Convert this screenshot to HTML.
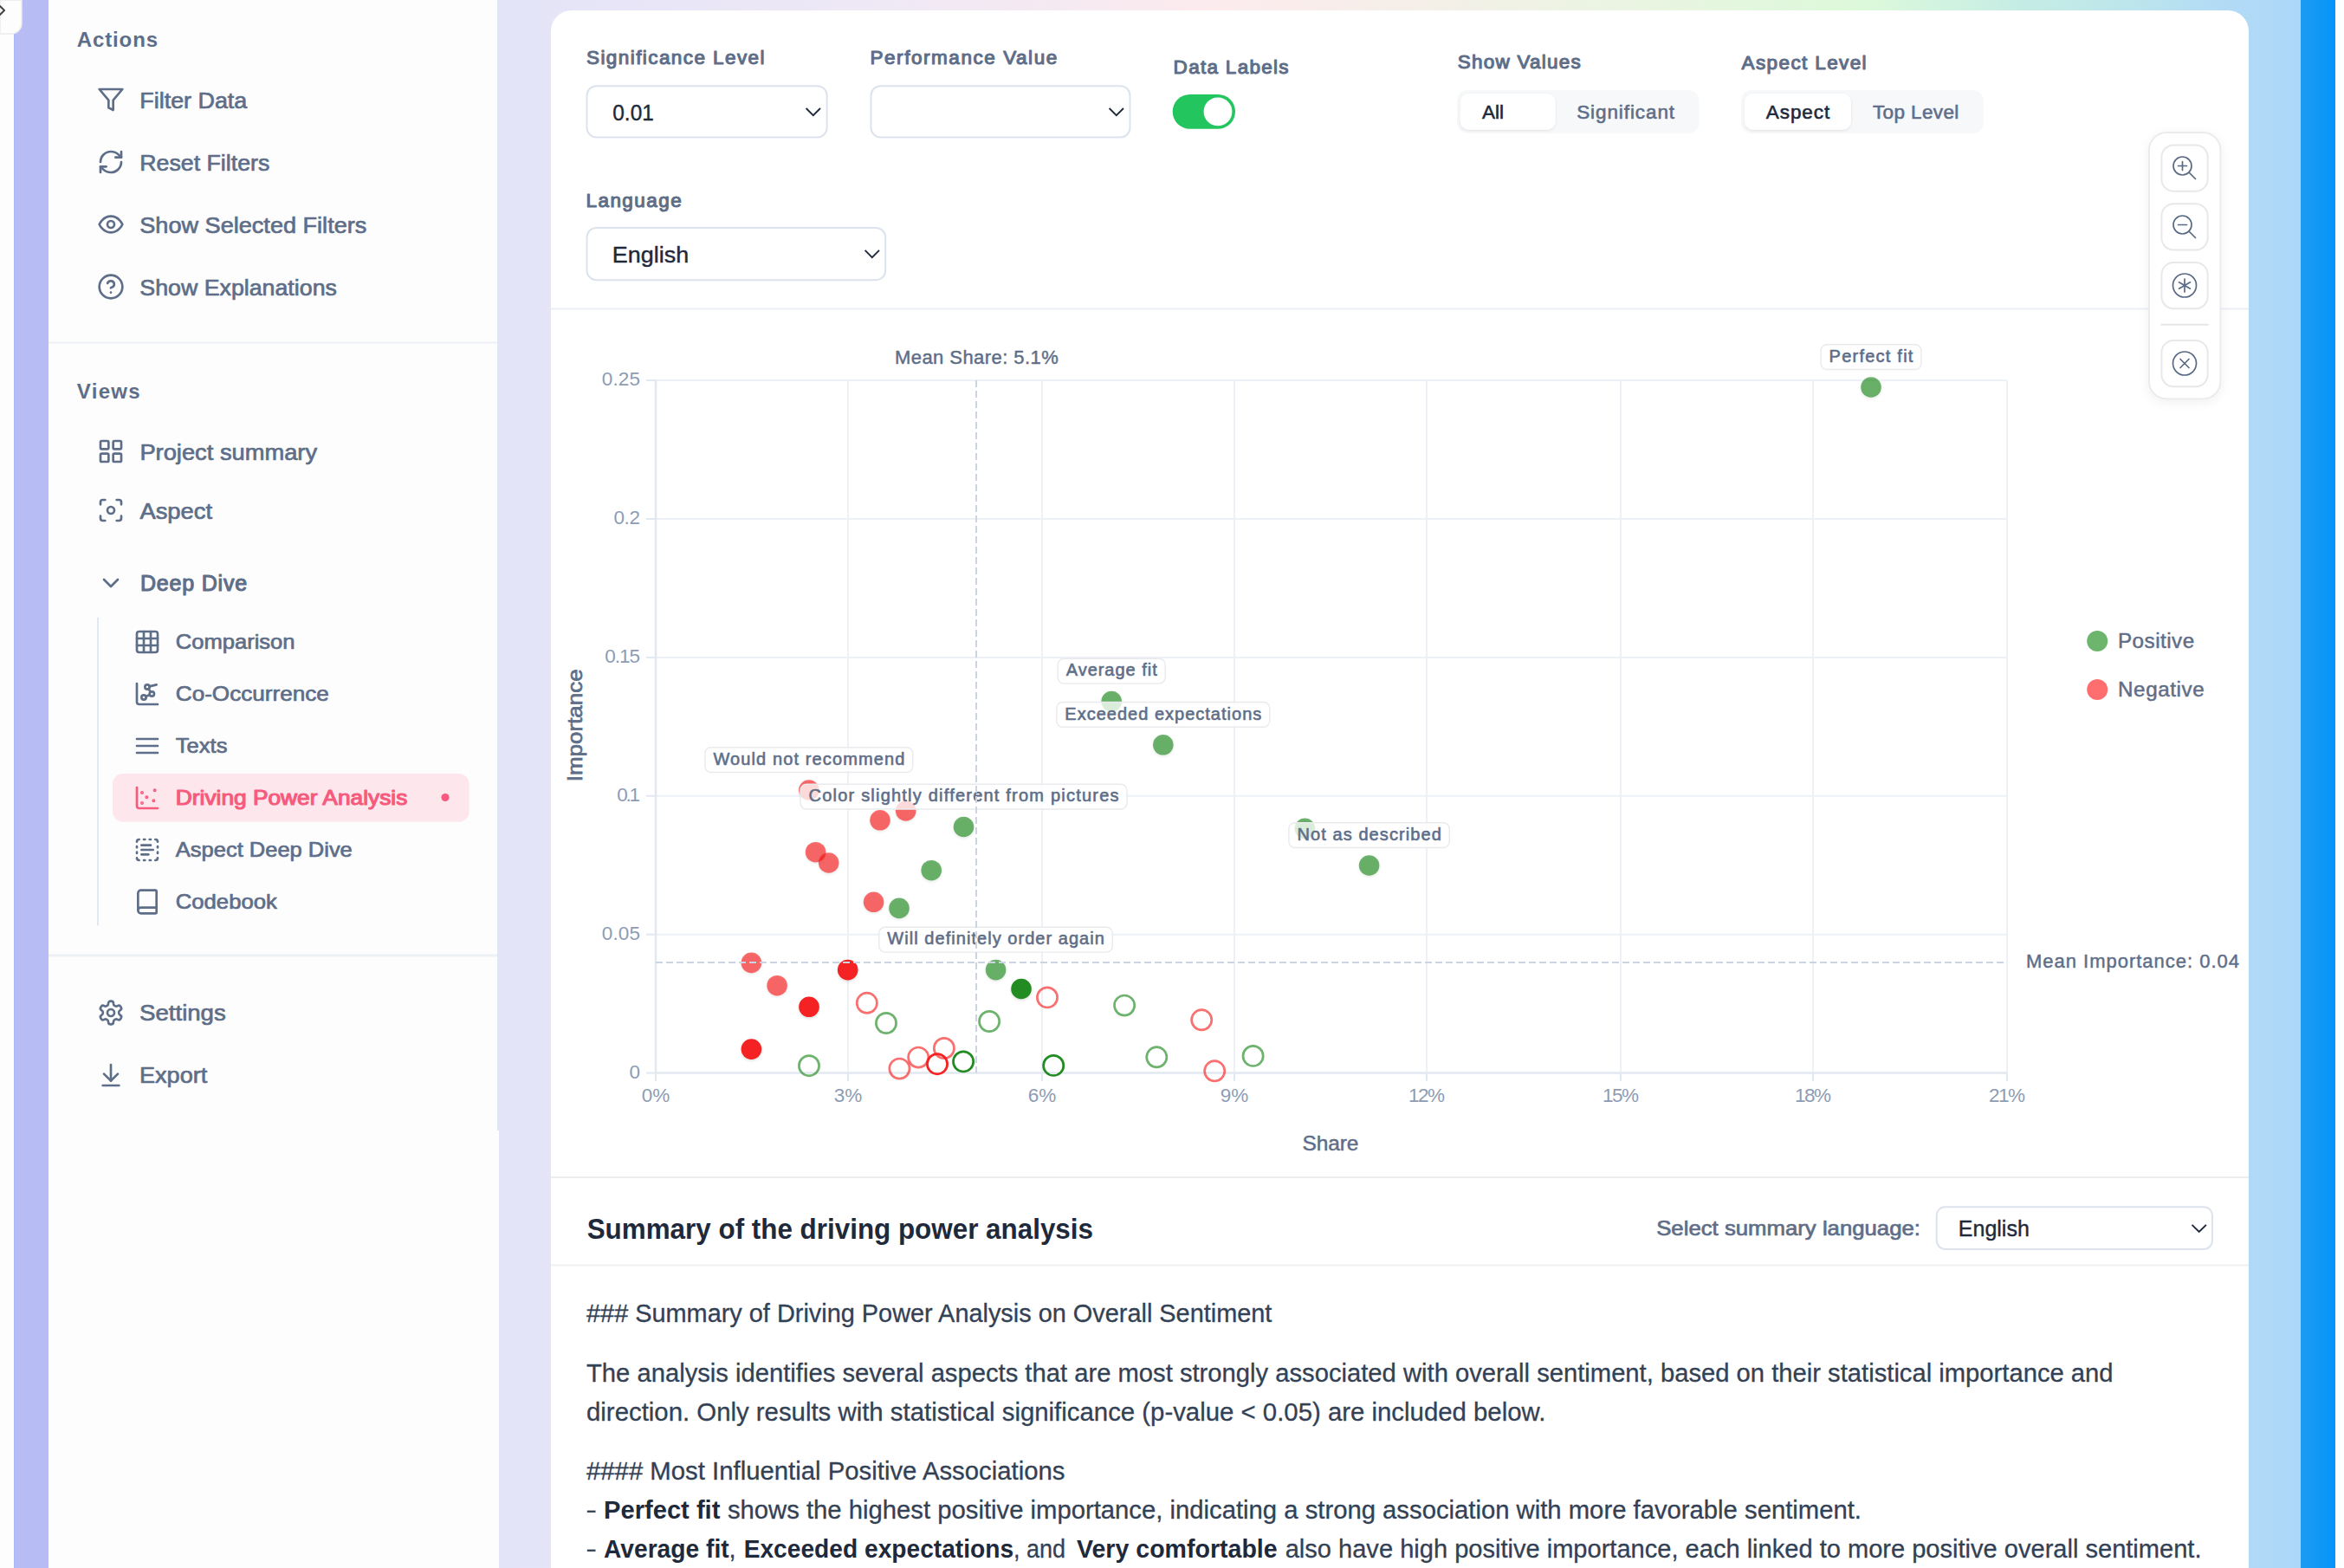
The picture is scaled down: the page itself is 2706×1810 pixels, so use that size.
<!DOCTYPE html>
<html><head><meta charset="utf-8"><title>Driving Power Analysis</title>
<style>
html,body{margin:0;padding:0;width:2706px;height:1810px;overflow:hidden;background:#fff;}
svg{display:block;font-family:"Liberation Sans", sans-serif;}
</style></head><body>
<svg width="2706" height="1810" viewBox="0 0 2706 1810">
<defs>
<linearGradient id="bg" x1="0" y1="0" x2="2706" y2="0" gradientUnits="userSpaceOnUse">
<stop offset="0.212" stop-color="#E4E4F8"/>
<stop offset="0.37" stop-color="#EEE8F6"/>
<stop offset="0.517" stop-color="#FCEBEE"/>
<stop offset="0.573" stop-color="#F8EDEA"/>
<stop offset="0.665" stop-color="#EEF3E4"/>
<stop offset="0.795" stop-color="#DDF9DB"/>
<stop offset="0.86" stop-color="#C6EDE4"/>
<stop offset="0.909" stop-color="#BCE5EC"/>
<stop offset="0.946" stop-color="#B3DBF5"/>
<stop offset="0.981" stop-color="#ADD7F9"/>
</linearGradient>
<linearGradient id="blue" x1="2656" y1="0" x2="2696" y2="0" gradientUnits="userSpaceOnUse">
<stop offset="0" stop-color="#1C9BF1"/><stop offset="1" stop-color="#0695FA"/>
</linearGradient>
<filter id="sh" x="-50%" y="-50%" width="200%" height="200%"><feDropShadow dx="0" dy="1" stdDeviation="1.5" flood-color="#000" flood-opacity="0.10"/></filter>
<filter id="sh2" x="-50%" y="-50%" width="200%" height="200%"><feDropShadow dx="0" dy="3" stdDeviation="6" flood-color="#000" flood-opacity="0.06"/></filter>
<filter id="psh" x="-50%" y="-50%" width="200%" height="200%"><feDropShadow dx="0" dy="1.5" stdDeviation="1.8" flood-color="#000" flood-opacity="0.14"/></filter>
</defs>
<rect x="0" y="0" width="2706" height="1810" fill="url(#bg)"/>
<rect x="2656" y="0" width="40" height="1810" fill="url(#blue)"/>
<rect x="2696" y="0" width="10" height="1810" fill="#FDFEFF"/>
<rect x="0" y="0" width="16" height="1810" fill="#FDFDFD"/>
<rect x="16" y="0" width="40" height="1810" fill="#B8BCF4"/>
<rect x="16" y="39" width="1.2" height="1771" fill="#A9B9F6"/>
<rect x="56" y="0" width="518" height="1305" fill="#FDFDFE"/>
<rect x="56" y="1305" width="520" height="505" fill="#FDFDFE"/>
<rect x="574" y="0" width="2" height="1305" fill="#E1E7EF"/>
<path d="M0 0 H25 V27 A12 12 0 0 1 13 39 H0 Z" fill="#FDFDFD" stroke="#ECECEC" stroke-width="1.5"/>
<path d="M0 7 L5 12 L0 17" fill="none" stroke="#444" stroke-width="2" stroke-linecap="round" stroke-linejoin="round"/>
<text x="88.7" y="53.9" font-size="24" font-weight="700" fill="#5E6E88" text-anchor="start" textLength="93.4" lengthAdjust="spacing" >Actions</text>
<g transform="translate(112,99) scale(1.3333333333333333)" fill="none" stroke="#5E6E88" stroke-width="2" stroke-linecap="round" stroke-linejoin="round"><polygon points="22 3 2 3 10 12.46 10 19 14 21 14 12.46 22 3"/></g>
<text x="161.3" y="124.55000000000001" font-size="26" font-weight="400" fill="#5E6E88" text-anchor="start" textLength="124" lengthAdjust="spacingAndGlyphs" stroke="#5E6E88" stroke-width="0.7" stroke-linejoin="round" >Filter Data</text>
<g transform="translate(112,171) scale(1.3333333333333333)" fill="none" stroke="#5E6E88" stroke-width="2" stroke-linecap="round" stroke-linejoin="round"><path d="M3 12a9 9 0 0 1 9-9 9.75 9.75 0 0 1 6.74 2.74L21 8"/><path d="M21 3v5h-5"/><path d="M21 12a9 9 0 0 1-9 9 9.75 9.75 0 0 1-6.74-2.74L3 16"/><path d="M8 16H3v5"/></g>
<text x="161.3" y="196.55" font-size="26" font-weight="400" fill="#5E6E88" text-anchor="start" textLength="150" lengthAdjust="spacingAndGlyphs" stroke="#5E6E88" stroke-width="0.7" stroke-linejoin="round" >Reset Filters</text>
<g transform="translate(112,243) scale(1.3333333333333333)" fill="none" stroke="#5E6E88" stroke-width="2" stroke-linecap="round" stroke-linejoin="round"><path d="M2 12s3-7 10-7 10 7 10 7-3 7-10 7-10-7-10-7Z"/><circle cx="12" cy="12" r="3"/></g>
<text x="161.3" y="268.54999999999995" font-size="26" font-weight="400" fill="#5E6E88" text-anchor="start" textLength="262" lengthAdjust="spacingAndGlyphs" stroke="#5E6E88" stroke-width="0.7" stroke-linejoin="round" >Show Selected Filters</text>
<g transform="translate(112,315) scale(1.3333333333333333)" fill="none" stroke="#5E6E88" stroke-width="2" stroke-linecap="round" stroke-linejoin="round"><circle cx="12" cy="12" r="10"/><path d="M9.09 9a3 3 0 0 1 5.83 1c0 2-3 3-3 3"/><path d="M12 17h.01"/></g>
<text x="161.3" y="340.54999999999995" font-size="26" font-weight="400" fill="#5E6E88" text-anchor="start" textLength="227.6" lengthAdjust="spacingAndGlyphs" stroke="#5E6E88" stroke-width="0.7" stroke-linejoin="round" >Show Explanations</text>
<line x1="56" y1="395.5" x2="574" y2="395.5" stroke="#EDF1F6" stroke-width="2"/>
<text x="88.8" y="460" font-size="24" font-weight="700" fill="#5E6E88" text-anchor="start" textLength="72.8" lengthAdjust="spacing" >Views</text>
<g transform="translate(112,505) scale(1.3333333333333333)" fill="none" stroke="#5E6E88" stroke-width="2" stroke-linecap="round" stroke-linejoin="round"><rect width="7" height="7" x="3" y="3" rx="1"/><rect width="7" height="7" x="14" y="3" rx="1"/><rect width="7" height="7" x="14" y="14" rx="1"/><rect width="7" height="7" x="3" y="14" rx="1"/></g>
<text x="161.4" y="530.85" font-size="26" font-weight="400" fill="#5E6E88" text-anchor="start" textLength="204.7" lengthAdjust="spacingAndGlyphs" stroke="#5E6E88" stroke-width="0.7" stroke-linejoin="round" >Project summary</text>
<g transform="translate(112,573) scale(1.3333333333333333)" fill="none" stroke="#5E6E88" stroke-width="2" stroke-linecap="round" stroke-linejoin="round"><circle cx="12" cy="12" r="3"/><path d="M3 7V5a2 2 0 0 1 2-2h2"/><path d="M17 3h2a2 2 0 0 1 2 2v2"/><path d="M21 17v2a2 2 0 0 1-2 2h-2"/><path d="M7 21H5a2 2 0 0 1-2-2v-2"/></g>
<text x="161.4" y="598.65" font-size="26" font-weight="400" fill="#5E6E88" text-anchor="start" textLength="83.6" lengthAdjust="spacingAndGlyphs" stroke="#5E6E88" stroke-width="0.7" stroke-linejoin="round" >Aspect</text>
<g transform="translate(112,657) scale(1.3333333333333333)" fill="none" stroke="#5E6E88" stroke-width="2" stroke-linecap="round" stroke-linejoin="round"><path d="m6 9 6 6 6-6"/></g>
<text x="162" y="682.2" font-size="25" font-weight="400" fill="#5E6E88" text-anchor="start" textLength="123.2" lengthAdjust="spacing" stroke="#5E6E88" stroke-width="1.1" stroke-linejoin="round" >Deep Dive</text>
<line x1="113" y1="712.7" x2="113" y2="1068.5" stroke="#E2E8F0" stroke-width="2"/>
<rect x="130" y="893" width="411.7" height="55.7" rx="12" fill="#FDE7EC"/>
<circle cx="514" cy="920.5" r="4.6" fill="#F65A7C"/>
<g transform="translate(154,725) scale(1.3333333333333333)" fill="none" stroke="#5E6E88" stroke-width="2" stroke-linecap="round" stroke-linejoin="round"><rect width="18" height="18" x="3" y="3" rx="2"/><path d="M3 9h18"/><path d="M3 15h18"/><path d="M9 3v18"/><path d="M15 3v18"/></g>
<text x="202.8" y="749.4" font-size="24" font-weight="400" fill="#5E6E88" text-anchor="start" textLength="137.7" lengthAdjust="spacingAndGlyphs" stroke="#5E6E88" stroke-width="0.7" stroke-linejoin="round" >Comparison</text>
<g transform="translate(154,785) scale(1.3333333333333333)" fill="none" stroke="#5E6E88" stroke-width="2" stroke-linecap="round" stroke-linejoin="round"><path d="m13.11 7.664 1.78 2.716"/><path d="m14.162 12.788-3.324 1.424"/><path d="m20 4-6.06 1.515"/><path d="M3 3v16a2 2 0 0 0 2 2h16"/><circle cx="12" cy="6" r="2"/><circle cx="16" cy="12" r="2"/><circle cx="9" cy="15" r="2"/></g>
<text x="202.8" y="809.4" font-size="24" font-weight="400" fill="#5E6E88" text-anchor="start" textLength="177" lengthAdjust="spacingAndGlyphs" stroke="#5E6E88" stroke-width="0.7" stroke-linejoin="round" >Co-Occurrence</text>
<g transform="translate(154,845) scale(1.3333333333333333)" fill="none" stroke="#5E6E88" stroke-width="2" stroke-linecap="round" stroke-linejoin="round"><path d="M3 6h18"/><path d="M3 12h18"/><path d="M3 18h18"/></g>
<text x="202.8" y="869.4" font-size="24" font-weight="400" fill="#5E6E88" text-anchor="start" textLength="59.7" lengthAdjust="spacingAndGlyphs" stroke="#5E6E88" stroke-width="0.7" stroke-linejoin="round" >Texts</text>
<g transform="translate(154,905) scale(1.3333333333333333)" fill="none" stroke="#F65A7C" stroke-width="2" stroke-linecap="round" stroke-linejoin="round"><path d="M3 3v16a2 2 0 0 0 2 2h16"/><g fill="#F65A7C"><circle cx="7.5" cy="7.5" r=".5"/><circle cx="18.5" cy="5.5" r=".5"/><circle cx="11.5" cy="11.5" r=".5"/><circle cx="7.5" cy="16.5" r=".5"/><circle cx="17.5" cy="14.5" r=".5"/></g></g>
<text x="202.8" y="929.2" font-size="23.6" font-weight="400" fill="#F65A7C" text-anchor="start" textLength="267.5" lengthAdjust="spacingAndGlyphs" stroke="#F65A7C" stroke-width="1.1" stroke-linejoin="round" >Driving Power Analysis</text>
<g transform="translate(154,965) scale(1.3333333333333333)" fill="none" stroke="#5E6E88" stroke-width="2" stroke-linecap="round" stroke-linejoin="round"><path d="M5 3a2 2 0 0 0-2 2"/><path d="M19 3a2 2 0 0 1 2 2"/><path d="M21 19a2 2 0 0 1-2 2"/><path d="M5 21a2 2 0 0 1-2-2"/><path d="M9 3h1"/><path d="M9 21h1"/><path d="M14 3h1"/><path d="M14 21h1"/><path d="M3 9v1"/><path d="M21 9v1"/><path d="M3 14v1"/><path d="M21 14v1"/><path d="M7 8h8"/><path d="M7 12h10"/><path d="M7 16h6"/></g>
<text x="202.8" y="989.4" font-size="24" font-weight="400" fill="#5E6E88" text-anchor="start" textLength="204" lengthAdjust="spacingAndGlyphs" stroke="#5E6E88" stroke-width="0.7" stroke-linejoin="round" >Aspect Deep Dive</text>
<g transform="translate(154,1025) scale(1.3333333333333333)" fill="none" stroke="#5E6E88" stroke-width="2" stroke-linecap="round" stroke-linejoin="round"><path d="M4 19.5v-15A2.5 2.5 0 0 1 6.5 2H19a1 1 0 0 1 1 1v18a1 1 0 0 1-1 1H6.5a1 1 0 0 1 0-5H20"/></g>
<text x="202.8" y="1049.4" font-size="24" font-weight="400" fill="#5E6E88" text-anchor="start" textLength="117" lengthAdjust="spacingAndGlyphs" stroke="#5E6E88" stroke-width="0.7" stroke-linejoin="round" >Codebook</text>
<line x1="56" y1="1103" x2="574" y2="1103" stroke="#EDF1F6" stroke-width="3"/>
<g transform="translate(112,1153) scale(1.3333333333333333)" fill="none" stroke="#5E6E88" stroke-width="2" stroke-linecap="round" stroke-linejoin="round"><path d="M12.22 2h-.44a2 2 0 0 0-2 2v.18a2 2 0 0 1-1 1.73l-.43.25a2 2 0 0 1-2 0l-.15-.08a2 2 0 0 0-2.73.73l-.22.38a2 2 0 0 0 .73 2.73l.15.1a2 2 0 0 1 1 1.72v.51a2 2 0 0 1-1 1.74l-.15.09a2 2 0 0 0-.73 2.73l.22.38a2 2 0 0 0 2.73.73l.15-.08a2 2 0 0 1 2 0l.43.25a2 2 0 0 1 1 1.73V20a2 2 0 0 0 2 2h.44a2 2 0 0 0 2-2v-.18a2 2 0 0 1 1-1.73l.43-.25a2 2 0 0 1 2 0l.15.08a2 2 0 0 0 2.73-.73l.22-.39a2 2 0 0 0-.73-2.73l-.15-.08a2 2 0 0 1-1-1.74v-.5a2 2 0 0 1 1-1.74l.15-.09a2 2 0 0 0 .73-2.73l-.22-.38a2 2 0 0 0-2.73-.73l-.15.08a2 2 0 0 1-2 0l-.43-.25a2 2 0 0 1-1-1.73V4a2 2 0 0 0-2-2z"/><circle cx="12" cy="12" r="3"/></g>
<text x="161" y="1177.8500000000001" font-size="26" font-weight="400" fill="#5E6E88" text-anchor="start" textLength="99.8" lengthAdjust="spacingAndGlyphs" stroke="#5E6E88" stroke-width="0.7" stroke-linejoin="round" >Settings</text>
<g transform="translate(112,1225) scale(1.3333333333333333)" fill="none" stroke="#5E6E88" stroke-width="2" stroke-linecap="round" stroke-linejoin="round"><path d="M12 17V3"/><path d="m6 11 6 6 6-6"/><path d="M19 21H5"/></g>
<text x="161" y="1250.45" font-size="26" font-weight="400" fill="#5E6E88" text-anchor="start" textLength="78.3" lengthAdjust="spacingAndGlyphs" stroke="#5E6E88" stroke-width="0.7" stroke-linejoin="round" >Export</text>
<rect x="636" y="12" width="1960" height="1900" rx="24" fill="#FFFFFF"/>
<line x1="636" y1="356.5" x2="2596" y2="356.5" stroke="#EBEEF3" stroke-width="2"/>
<line x1="636" y1="1359" x2="2596" y2="1359" stroke="#ECEEEE" stroke-width="2"/>
<line x1="636" y1="1460.5" x2="2596" y2="1460.5" stroke="#F0F1F2" stroke-width="2"/>
<text x="677" y="74.4" font-size="22.5" font-weight="400" fill="#5E6E88" text-anchor="start" textLength="205.5" lengthAdjust="spacing" stroke="#5E6E88" stroke-width="1.1" stroke-linejoin="round" >Significance Level</text>
<rect x="677.5" y="99.3" width="277.2" height="59.1" rx="11" fill="#fff" stroke="#DDE3ED" stroke-width="2"/>
<text x="707.3" y="138.5" font-size="26" font-weight="400" fill="#1E293B" text-anchor="start" textLength="47.5" lengthAdjust="spacingAndGlyphs" stroke="#1E293B" stroke-width="0.4" stroke-linejoin="round" >0.01</text>
<path d="M930.6 125 L938.8 133.2 L947 125" fill="none" stroke="#1E293B" stroke-width="1.9" stroke-linecap="butt" stroke-linejoin="miter"/>
<text x="1004.5" y="74.4" font-size="22.5" font-weight="400" fill="#5E6E88" text-anchor="start" textLength="215.7" lengthAdjust="spacing" stroke="#5E6E88" stroke-width="1.1" stroke-linejoin="round" >Performance Value</text>
<rect x="1005.5" y="99.3" width="299" height="59.1" rx="11" fill="#fff" stroke="#DDE3ED" stroke-width="2"/>
<path d="M1280.6 125 L1288.8 133.2 L1297 125" fill="none" stroke="#1E293B" stroke-width="1.9" stroke-linecap="butt" stroke-linejoin="miter"/>
<text x="676.5" y="239.3" font-size="22.5" font-weight="400" fill="#5E6E88" text-anchor="start" textLength="110.2" lengthAdjust="spacing" stroke="#5E6E88" stroke-width="1.1" stroke-linejoin="round" >Language</text>
<rect x="677.5" y="263" width="344.7" height="60.2" rx="11" fill="#fff" stroke="#DDE3ED" stroke-width="2"/>
<text x="706.8" y="303.2" font-size="26" font-weight="400" fill="#1E293B" text-anchor="start" textLength="88.4" lengthAdjust="spacingAndGlyphs" stroke="#1E293B" stroke-width="0.4" stroke-linejoin="round" >English</text>
<path d="M998.6 288.9 L1006.8 297.1 L1015 288.9" fill="none" stroke="#1E293B" stroke-width="1.9" stroke-linecap="butt" stroke-linejoin="miter"/>
<text x="1354.6" y="85.3" font-size="22.5" font-weight="400" fill="#5E6E88" text-anchor="start" textLength="133" lengthAdjust="spacing" stroke="#5E6E88" stroke-width="1.1" stroke-linejoin="round" >Data Labels</text>
<rect x="1353.7" y="109" width="72.3" height="39.7" rx="19.85" fill="#22C55E"/>
<circle cx="1406" cy="128.9" r="16.4" fill="#fff"/>
<text x="1682.8" y="79.3" font-size="22.5" font-weight="400" fill="#5E6E88" text-anchor="start" textLength="142" lengthAdjust="spacing" stroke="#5E6E88" stroke-width="1.1" stroke-linejoin="round" >Show Values</text>
<rect x="1682" y="104" width="279.4" height="49.8" rx="12" fill="#F7F8FA"/>
<rect x="1685.8" y="108" width="110" height="41.8" rx="10" fill="#fff" filter="url(#sh)"/>
<text x="1710.9" y="136.7" font-size="22.5" font-weight="400" fill="#1E293B" text-anchor="start" textLength="25.1" lengthAdjust="spacing" stroke="#1E293B" stroke-width="0.6" stroke-linejoin="round" >All</text>
<text x="1820.2" y="136.7" font-size="22.5" font-weight="400" fill="#5E6E88" text-anchor="start" textLength="112.9" lengthAdjust="spacing" stroke="#5E6E88" stroke-width="0.6" stroke-linejoin="round" >Significant</text>
<text x="2010.6" y="80.3" font-size="22.5" font-weight="400" fill="#5E6E88" text-anchor="start" textLength="144" lengthAdjust="spacing" stroke="#5E6E88" stroke-width="1.1" stroke-linejoin="round" >Aspect Level</text>
<rect x="2010" y="104" width="279.7" height="49.9" rx="12" fill="#F7F8FA"/>
<rect x="2013.9" y="108" width="123.1" height="41.8" rx="10" fill="#fff" filter="url(#sh)"/>
<text x="2038.7" y="136.7" font-size="22.5" font-weight="400" fill="#1E293B" text-anchor="start" textLength="73.6" lengthAdjust="spacing" stroke="#1E293B" stroke-width="0.6" stroke-linejoin="round" >Aspect</text>
<text x="2162" y="136.7" font-size="22.5" font-weight="400" fill="#5E6E88" text-anchor="start" textLength="99.3" lengthAdjust="spacing" stroke="#5E6E88" stroke-width="0.6" stroke-linejoin="round" >Top Level</text>
<rect x="2481" y="153" width="82.4" height="307.4" rx="20" fill="#fff" stroke="#EBEBEB" stroke-width="2" filter="url(#sh2)"/>
<rect x="2495.4" y="167.4" width="53.3" height="53.3" rx="14" fill="#fff" stroke="#E8E8E8" stroke-width="2"/>
<rect x="2495.4" y="235.3" width="53.3" height="53.3" rx="14" fill="#fff" stroke="#E8E8E8" stroke-width="2"/>
<rect x="2495.4" y="303" width="53.3" height="53.3" rx="14" fill="#fff" stroke="#E8E8E8" stroke-width="2"/>
<rect x="2495.4" y="393" width="53.3" height="53.3" rx="14" fill="#fff" stroke="#E8E8E8" stroke-width="2"/>
<line x1="2494.4" y1="374.8" x2="2549.7" y2="374.8" stroke="#E6E6E6" stroke-width="2"/>
<g fill="none" stroke="#5A6A84" stroke-width="1.7" stroke-linecap="round"><circle cx="2519.5" cy="191.5" r="10.5"/><line x1="2527" y1="199" x2="2534.5" y2="206.5"/><line x1="2519.5" y1="186.5" x2="2519.5" y2="196.5"/><line x1="2514.5" y1="191.5" x2="2524.5" y2="191.5"/></g>
<g fill="none" stroke="#5A6A84" stroke-width="1.7" stroke-linecap="round"><circle cx="2519.5" cy="259.5" r="10.5"/><line x1="2527" y1="267" x2="2534.5" y2="274.5"/><line x1="2514.5" y1="259.5" x2="2524.5" y2="259.5"/></g>
<g fill="none" stroke="#5A6A84" stroke-width="1.7" stroke-linecap="round"><circle cx="2522" cy="329.5" r="13.5"/><line x1="2522" y1="322" x2="2522" y2="337"/><line x1="2515.5" y1="325.8" x2="2528.5" y2="333.2"/><line x1="2515.5" y1="333.2" x2="2528.5" y2="325.8"/></g>
<g fill="none" stroke="#5A6A84" stroke-width="1.7" stroke-linecap="round"><circle cx="2522" cy="419.5" r="13.5"/><line x1="2517" y1="414.5" x2="2527" y2="424.5"/><line x1="2527" y1="414.5" x2="2517" y2="424.5"/></g>
<line x1="757" y1="1078.7" x2="2317" y2="1078.7" stroke="#EDF1F6" stroke-width="2"/>
<line x1="757" y1="918.8" x2="2317" y2="918.8" stroke="#EDF1F6" stroke-width="2"/>
<line x1="757" y1="758.9" x2="2317" y2="758.9" stroke="#EDF1F6" stroke-width="2"/>
<line x1="757" y1="599.0" x2="2317" y2="599.0" stroke="#EDF1F6" stroke-width="2"/>
<line x1="757" y1="439.1" x2="2317" y2="439.1" stroke="#EDF1F6" stroke-width="2"/>
<line x1="979.0" y1="439.1" x2="979.0" y2="1238.6" stroke="#EDF1F6" stroke-width="2"/>
<line x1="1203.0" y1="439.1" x2="1203.0" y2="1238.6" stroke="#EDF1F6" stroke-width="2"/>
<line x1="1425.0" y1="439.1" x2="1425.0" y2="1238.6" stroke="#EDF1F6" stroke-width="2"/>
<line x1="1647.0" y1="439.1" x2="1647.0" y2="1238.6" stroke="#EDF1F6" stroke-width="2"/>
<line x1="1871.0" y1="439.1" x2="1871.0" y2="1238.6" stroke="#EDF1F6" stroke-width="2"/>
<line x1="2093.0" y1="439.1" x2="2093.0" y2="1238.6" stroke="#EDF1F6" stroke-width="2"/>
<line x1="2317.0" y1="439.1" x2="2317.0" y2="1238.6" stroke="#EDF1F6" stroke-width="2"/>
<line x1="757" y1="439.1" x2="757" y2="1238.6" stroke="#E2E8F0" stroke-width="2.5"/>
<line x1="757" y1="1238.6" x2="2317" y2="1238.6" stroke="#E2E8F0" stroke-width="2.5"/>
<line x1="746" y1="1238.6" x2="757" y2="1238.6" stroke="#E2E8F0" stroke-width="2"/>
<text x="739" y="1244.5" font-size="22.5" font-weight="400" fill="#8D9CB3" text-anchor="end" textLength="11.5" lengthAdjust="spacing" >0</text>
<line x1="746" y1="1078.7" x2="757" y2="1078.7" stroke="#E2E8F0" stroke-width="2"/>
<text x="739" y="1084.6" font-size="22.5" font-weight="400" fill="#8D9CB3" text-anchor="end" textLength="44.3" lengthAdjust="spacing" >0.05</text>
<line x1="746" y1="918.8" x2="757" y2="918.8" stroke="#E2E8F0" stroke-width="2"/>
<text x="739" y="924.7" font-size="22.5" font-weight="400" fill="#8D9CB3" text-anchor="end" textLength="26.7" lengthAdjust="spacing" >0.1</text>
<line x1="746" y1="758.9" x2="757" y2="758.9" stroke="#E2E8F0" stroke-width="2"/>
<text x="739" y="764.8" font-size="22.5" font-weight="400" fill="#8D9CB3" text-anchor="end" textLength="40.7" lengthAdjust="spacing" >0.15</text>
<line x1="746" y1="599.0" x2="757" y2="599.0" stroke="#E2E8F0" stroke-width="2"/>
<text x="739" y="604.9" font-size="22.5" font-weight="400" fill="#8D9CB3" text-anchor="end" textLength="30.5" lengthAdjust="spacing" >0.2</text>
<line x1="746" y1="439.1" x2="757" y2="439.1" stroke="#E2E8F0" stroke-width="2"/>
<text x="739" y="445.0" font-size="22.5" font-weight="400" fill="#8D9CB3" text-anchor="end" textLength="44.2" lengthAdjust="spacing" >0.25</text>
<line x1="757.0" y1="1238.6" x2="757.0" y2="1247.7" stroke="#E2E8F0" stroke-width="2"/>
<text x="757" y="1272" font-size="22.5" font-weight="400" fill="#8D9CB3" text-anchor="middle" textLength="32.5" lengthAdjust="spacing" >0%</text>
<line x1="979.0" y1="1238.6" x2="979.0" y2="1247.7" stroke="#E2E8F0" stroke-width="2"/>
<text x="979" y="1272" font-size="22.5" font-weight="400" fill="#8D9CB3" text-anchor="middle" textLength="32.5" lengthAdjust="spacing" >3%</text>
<line x1="1203.0" y1="1238.6" x2="1203.0" y2="1247.7" stroke="#E2E8F0" stroke-width="2"/>
<text x="1203" y="1272" font-size="22.5" font-weight="400" fill="#8D9CB3" text-anchor="middle" textLength="32.5" lengthAdjust="spacing" >6%</text>
<line x1="1425.0" y1="1238.6" x2="1425.0" y2="1247.7" stroke="#E2E8F0" stroke-width="2"/>
<text x="1425" y="1272" font-size="22.5" font-weight="400" fill="#8D9CB3" text-anchor="middle" textLength="32.5" lengthAdjust="spacing" >9%</text>
<line x1="1647.0" y1="1238.6" x2="1647.0" y2="1247.7" stroke="#E2E8F0" stroke-width="2"/>
<text x="1647" y="1272" font-size="22.5" font-weight="400" fill="#8D9CB3" text-anchor="middle" textLength="42.2" lengthAdjust="spacing" >12%</text>
<line x1="1871.0" y1="1238.6" x2="1871.0" y2="1247.7" stroke="#E2E8F0" stroke-width="2"/>
<text x="1871" y="1272" font-size="22.5" font-weight="400" fill="#8D9CB3" text-anchor="middle" textLength="42.2" lengthAdjust="spacing" >15%</text>
<line x1="2093.0" y1="1238.6" x2="2093.0" y2="1247.7" stroke="#E2E8F0" stroke-width="2"/>
<text x="2093" y="1272" font-size="22.5" font-weight="400" fill="#8D9CB3" text-anchor="middle" textLength="42.2" lengthAdjust="spacing" >18%</text>
<line x1="2317.0" y1="1238.6" x2="2317.0" y2="1247.7" stroke="#E2E8F0" stroke-width="2"/>
<text x="2317" y="1272" font-size="22.5" font-weight="400" fill="#8D9CB3" text-anchor="middle" textLength="42.2" lengthAdjust="spacing" >21%</text>
<text x="1127.4" y="420.1" font-size="22" font-weight="400" fill="#5E6E88" text-anchor="middle" textLength="188.8" lengthAdjust="spacing" stroke="#5E6E88" stroke-width="0.45" stroke-linejoin="round" >Mean Share: 5.1%</text>
<text x="2339" y="1116.6" font-size="22" font-weight="400" fill="#5E6E88" text-anchor="start" textLength="246" lengthAdjust="spacing" stroke="#5E6E88" stroke-width="0.45" stroke-linejoin="round" >Mean Importance: 0.04</text>
<text x="1536" y="1327.8" font-size="24.5" font-weight="400" fill="#5E6E88" text-anchor="middle" textLength="65" lengthAdjust="spacing" stroke="#5E6E88" stroke-width="0.5" stroke-linejoin="round" >Share</text>
<text x="0" y="0" font-size="24" font-weight="400" fill="#5E6E88" stroke="#5E6E88" stroke-width="0.7" text-anchor="middle" textLength="130" lengthAdjust="spacingAndGlyphs" transform="translate(671.7 837.3) rotate(-90)">Importance</text>
<circle cx="2160" cy="447" r="11.8" fill="rgba(34,139,34,0.66)" filter="url(#psh)"/>
<circle cx="1283.2" cy="809.6" r="11.8" fill="rgba(34,139,34,0.66)" filter="url(#psh)"/>
<circle cx="1342.8" cy="859.8" r="11.8" fill="rgba(34,139,34,0.66)" filter="url(#psh)"/>
<circle cx="1580.6" cy="999" r="11.8" fill="rgba(34,139,34,0.66)" filter="url(#psh)"/>
<circle cx="1506.4" cy="956.3" r="11.8" fill="rgba(34,139,34,0.66)" filter="url(#psh)"/>
<circle cx="933.9" cy="912" r="11.8" fill="rgba(245,25,25,0.62)" filter="url(#psh)"/>
<circle cx="1112.5" cy="954.5" r="11.8" fill="rgba(34,139,34,0.66)" filter="url(#psh)"/>
<circle cx="1016" cy="946.8" r="11.8" fill="rgba(245,25,25,0.62)" filter="url(#psh)"/>
<circle cx="1045.7" cy="936" r="11.8" fill="rgba(245,25,25,0.62)" filter="url(#psh)"/>
<circle cx="941.6" cy="983.7" r="11.8" fill="rgba(245,25,25,0.62)" filter="url(#psh)"/>
<circle cx="956.7" cy="996" r="11.8" fill="rgba(245,25,25,0.62)" filter="url(#psh)"/>
<circle cx="1075.2" cy="1004.7" r="11.8" fill="rgba(34,139,34,0.66)" filter="url(#psh)"/>
<circle cx="1008.6" cy="1041.3" r="11.8" fill="rgba(245,25,25,0.62)" filter="url(#psh)"/>
<circle cx="1038" cy="1048.4" r="11.8" fill="rgba(34,139,34,0.66)" filter="url(#psh)"/>
<circle cx="1149.6" cy="1119.6" r="11.8" fill="rgba(34,139,34,0.66)" filter="url(#psh)"/>
<circle cx="867.4" cy="1111.4" r="11.8" fill="rgba(245,25,25,0.62)" filter="url(#psh)"/>
<circle cx="897.1" cy="1137.7" r="11.8" fill="rgba(245,25,25,0.62)" filter="url(#psh)"/>
<circle cx="978.7" cy="1119.6" r="11.8" fill="#F42222" filter="url(#psh)"/>
<circle cx="934" cy="1162.3" r="11.8" fill="#F42222" filter="url(#psh)"/>
<circle cx="867.4" cy="1211.1" r="11.8" fill="#F42222" filter="url(#psh)"/>
<circle cx="1000.8" cy="1157.8" r="11.6" fill="none" stroke="rgba(245,25,25,0.62)" stroke-width="2.7"/>
<circle cx="1023" cy="1181" r="11.6" fill="none" stroke="rgba(34,139,34,0.66)" stroke-width="2.7"/>
<circle cx="934" cy="1230.2" r="11.6" fill="none" stroke="rgba(34,139,34,0.66)" stroke-width="2.7"/>
<circle cx="1038.4" cy="1233.6" r="11.6" fill="none" stroke="rgba(245,25,25,0.62)" stroke-width="2.7"/>
<circle cx="1060.2" cy="1220.6" r="11.6" fill="none" stroke="rgba(245,25,25,0.62)" stroke-width="2.7"/>
<circle cx="1089.9" cy="1210" r="11.6" fill="none" stroke="rgba(245,25,25,0.62)" stroke-width="2.7"/>
<circle cx="1082" cy="1228.2" r="11.6" fill="none" stroke="#F42222" stroke-width="2.7"/>
<circle cx="1112.1" cy="1225.4" r="11.6" fill="none" stroke="#228B22" stroke-width="2.7"/>
<circle cx="1179" cy="1141.5" r="11.8" fill="#228B22" filter="url(#psh)"/>
<circle cx="1209" cy="1151.4" r="11.6" fill="none" stroke="rgba(245,25,25,0.62)" stroke-width="2.7"/>
<circle cx="1142.1" cy="1179" r="11.6" fill="none" stroke="rgba(34,139,34,0.66)" stroke-width="2.7"/>
<circle cx="1216.2" cy="1229.9" r="11.6" fill="none" stroke="#228B22" stroke-width="2.7"/>
<circle cx="1298.1" cy="1160.6" r="11.6" fill="none" stroke="rgba(34,139,34,0.66)" stroke-width="2.7"/>
<circle cx="1335.3" cy="1220.3" r="11.6" fill="none" stroke="rgba(34,139,34,0.66)" stroke-width="2.7"/>
<circle cx="1387.2" cy="1177.3" r="11.6" fill="none" stroke="rgba(245,25,25,0.62)" stroke-width="2.7"/>
<circle cx="1402.2" cy="1236.3" r="11.6" fill="none" stroke="rgba(245,25,25,0.62)" stroke-width="2.7"/>
<circle cx="1446.6" cy="1218.9" r="11.6" fill="none" stroke="rgba(34,139,34,0.66)" stroke-width="2.7"/>
<rect x="2102.1" y="397.7" width="115.8" height="28.8" rx="7" fill="rgba(255,255,255,0.76)" stroke="#E9EAED" stroke-width="1.4"/>
<text x="2160" y="417.8" font-size="20" font-weight="400" fill="#5E6E88" text-anchor="middle" textLength="96.8" lengthAdjust="spacing" stroke="#5E6E88" stroke-width="0.6" stroke-linejoin="round" >Perfect fit</text>
<rect x="1221.2" y="760.3" width="124.0" height="28.8" rx="7" fill="rgba(255,255,255,0.76)" stroke="#E9EAED" stroke-width="1.4"/>
<text x="1283.2" y="780.4" font-size="20" font-weight="400" fill="#5E6E88" text-anchor="middle" textLength="105" lengthAdjust="spacing" stroke="#5E6E88" stroke-width="0.6" stroke-linejoin="round" >Average fit</text>
<rect x="1219.8" y="810.5" width="246.0" height="28.8" rx="7" fill="rgba(255,255,255,0.76)" stroke="#E9EAED" stroke-width="1.4"/>
<text x="1342.8" y="830.6" font-size="20" font-weight="400" fill="#5E6E88" text-anchor="middle" textLength="227" lengthAdjust="spacing" stroke="#5E6E88" stroke-width="0.6" stroke-linejoin="round" >Exceeded expectations</text>
<rect x="1487.9" y="949.7" width="185.4" height="28.8" rx="7" fill="rgba(255,255,255,0.76)" stroke="#E9EAED" stroke-width="1.4"/>
<text x="1580.6" y="969.8" font-size="20" font-weight="400" fill="#5E6E88" text-anchor="middle" textLength="166.4" lengthAdjust="spacing" stroke="#5E6E88" stroke-width="0.6" stroke-linejoin="round" >Not as described</text>
<rect x="813.9" y="862.7" width="239.9" height="28.8" rx="7" fill="rgba(255,255,255,0.76)" stroke="#E9EAED" stroke-width="1.4"/>
<text x="933.9" y="882.8" font-size="20" font-weight="400" fill="#5E6E88" text-anchor="middle" textLength="220.9" lengthAdjust="spacing" stroke="#5E6E88" stroke-width="0.6" stroke-linejoin="round" >Would not recommend</text>
<rect x="924.0" y="905.2" width="377.0" height="28.8" rx="7" fill="rgba(255,255,255,0.76)" stroke="#E9EAED" stroke-width="1.4"/>
<text x="1112.5" y="925.3" font-size="20" font-weight="400" fill="#5E6E88" text-anchor="middle" textLength="358" lengthAdjust="spacing" stroke="#5E6E88" stroke-width="0.6" stroke-linejoin="round" >Color slightly different from pictures</text>
<rect x="1014.8" y="1070.3" width="269.5" height="28.8" rx="7" fill="rgba(255,255,255,0.76)" stroke="#E9EAED" stroke-width="1.4"/>
<text x="1149.6" y="1090.4" font-size="20" font-weight="400" fill="#5E6E88" text-anchor="middle" textLength="250.5" lengthAdjust="spacing" stroke="#5E6E88" stroke-width="0.6" stroke-linejoin="round" >Will definitely order again</text>
<line x1="1127" y1="439.1" x2="1127" y2="1238.6" stroke="#CBD5E1" stroke-width="2" stroke-dasharray="8 4"/>
<line x1="757" y1="1111" x2="2317" y2="1111" stroke="#CBD5E1" stroke-width="2" stroke-dasharray="8 4"/>
<circle cx="2421.2" cy="739.9" r="12" fill="#6DB56D"/>
<circle cx="2421.2" cy="795.9" r="12" fill="#FF6E6E"/>
<text x="2445" y="747.7" font-size="24.2" font-weight="400" fill="#5E6E88" text-anchor="start" textLength="88.1" lengthAdjust="spacing" stroke="#5E6E88" stroke-width="0.5" stroke-linejoin="round" >Positive</text>
<text x="2445" y="803.6" font-size="24.2" font-weight="400" fill="#5E6E88" text-anchor="start" textLength="99.7" lengthAdjust="spacing" stroke="#5E6E88" stroke-width="0.5" stroke-linejoin="round" >Negative</text>
<text x="677.7" y="1430" font-size="33" font-weight="700" fill="#1E293B" text-anchor="start" textLength="584.3" lengthAdjust="spacingAndGlyphs" >Summary of the driving power analysis</text>
<text x="1912.2" y="1426.3" font-size="23.8" font-weight="400" fill="#5E6E88" text-anchor="start" textLength="304.8" lengthAdjust="spacingAndGlyphs" stroke="#5E6E88" stroke-width="0.7" stroke-linejoin="round" >Select summary language:</text>
<rect x="2235.7" y="1393.2" width="318.3" height="48.8" rx="10" fill="#fff" stroke="#DDE3ED" stroke-width="2"/>
<text x="2260.8" y="1426.8" font-size="26" font-weight="400" fill="#1E293B" text-anchor="start" textLength="82" lengthAdjust="spacingAndGlyphs" stroke="#1E293B" stroke-width="0.4" stroke-linejoin="round" >English</text>
<path d="M2530.5 1413.8 L2538.7 1422 L2546.9 1413.8" fill="none" stroke="#1E293B" stroke-width="1.9" stroke-linecap="butt" stroke-linejoin="miter"/>
<text x="677" y="1525.6" font-size="29" font-weight="400" fill="#334155" text-anchor="start" textLength="791.4" lengthAdjust="spacingAndGlyphs" stroke="#334155" stroke-width="0.3" stroke-linejoin="round" >### Summary of Driving Power Analysis on Overall Sentiment</text>
<text x="677" y="1595.2" font-size="29" font-weight="400" fill="#334155" text-anchor="start" textLength="1762.6" lengthAdjust="spacingAndGlyphs" stroke="#334155" stroke-width="0.3" stroke-linejoin="round" >The analysis identifies several aspects that are most strongly associated with overall sentiment, based on their statistical importance and</text>
<text x="677" y="1640" font-size="29" font-weight="400" fill="#334155" text-anchor="start" textLength="1107.3" lengthAdjust="spacingAndGlyphs" stroke="#334155" stroke-width="0.3" stroke-linejoin="round" >direction. Only results with statistical significance (p-value &lt; 0.05) are included below.</text>
<text x="677" y="1708.2" font-size="29" font-weight="400" fill="#334155" text-anchor="start" textLength="552.5" lengthAdjust="spacingAndGlyphs" stroke="#334155" stroke-width="0.3" stroke-linejoin="round" >#### Most Influential Positive Associations</text>
<rect x="677.8" y="1743.6" width="9.7" height="2.3" fill="#334155"/>
<text x="697" y="1753" font-size="29" font-weight="700" fill="#1E293B" text-anchor="start" textLength="134.4" lengthAdjust="spacingAndGlyphs" >Perfect fit</text>
<text x="839.9" y="1753" font-size="29" font-weight="400" fill="#334155" text-anchor="start" textLength="1309.1" lengthAdjust="spacingAndGlyphs" stroke="#334155" stroke-width="0.3" stroke-linejoin="round" >shows the highest positive importance, indicating a strong association with more favorable sentiment.</text>
<rect x="677.8" y="1788.6" width="9.7" height="2.3" fill="#334155"/>
<text x="697" y="1797.8" font-size="29" font-weight="700" fill="#1E293B" text-anchor="start" textLength="144.6" lengthAdjust="spacingAndGlyphs" >Average fit</text>
<text x="841.6" y="1797.8" font-size="29" font-weight="400" fill="#334155" text-anchor="start" stroke="#334155" stroke-width="0.3" stroke-linejoin="round" >,</text>
<text x="858.7" y="1797.8" font-size="29" font-weight="700" fill="#1E293B" text-anchor="start" textLength="311.4" lengthAdjust="spacingAndGlyphs" >Exceeded expectations</text>
<text x="1170.1" y="1797.8" font-size="29" font-weight="400" fill="#334155" text-anchor="start" textLength="60" lengthAdjust="spacingAndGlyphs" stroke="#334155" stroke-width="0.3" stroke-linejoin="round" >, and</text>
<text x="1243" y="1797.8" font-size="29" font-weight="700" fill="#1E293B" text-anchor="start" textLength="231.7" lengthAdjust="spacingAndGlyphs" >Very comfortable</text>
<text x="1483.7" y="1797.8" font-size="29" font-weight="400" fill="#334155" text-anchor="start" textLength="1057.8" lengthAdjust="spacingAndGlyphs" stroke="#334155" stroke-width="0.3" stroke-linejoin="round" >also have high positive importance, each linked to more positive overall sentiment.</text>
</svg>
</body></html>
